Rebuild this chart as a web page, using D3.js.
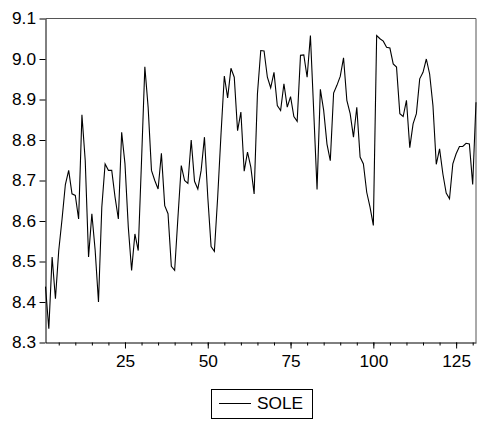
<!DOCTYPE html>
<html>
<head>
<meta charset="utf-8">
<script src="https://cdn.jsdelivr.net/npm/d3@7"></script>
<style>
  html, body { margin: 0; padding: 0; background: #fff; }
  svg { display: block; }
  text { font-family: "Liberation Sans", Arial, sans-serif; fill: #000; }
</style>
</head>
<body>
<svg id="chart" width="477" height="423"></svg>
<script>
const seriesName = "SOLE";
const sole = [
  8.438, 8.334, 8.511, 8.408, 8.527, 8.605, 8.690, 8.725, 8.667, 8.663,
  8.605, 8.862, 8.749, 8.511, 8.618, 8.527, 8.400, 8.634, 8.741, 8.725,
  8.725, 8.659, 8.605, 8.819, 8.741, 8.585, 8.478, 8.568, 8.527, 8.749,
  8.981, 8.880, 8.725, 8.700, 8.679, 8.767, 8.638, 8.618, 8.488, 8.478,
  8.610, 8.737, 8.700, 8.693, 8.800, 8.698, 8.679, 8.725, 8.807, 8.660,
  8.537, 8.525, 8.660, 8.815, 8.958, 8.904, 8.977, 8.955, 8.823, 8.869,
  8.723, 8.770, 8.733, 8.667, 8.914, 9.021, 9.020, 8.955, 8.929, 8.967,
  8.885, 8.873, 8.939, 8.881, 8.907, 8.858, 8.846, 9.009, 9.010, 8.955,
  9.058, 8.870, 8.678, 8.925, 8.873, 8.790, 8.749, 8.916, 8.935, 8.957,
  9.003, 8.898, 8.865, 8.807, 8.881, 8.758, 8.741, 8.671, 8.634, 8.589,
  9.058, 9.050, 9.044, 9.029, 9.027, 8.988, 8.980, 8.865, 8.858, 8.898,
  8.781, 8.840, 8.865, 8.951, 8.967, 9.000, 8.963, 8.885, 8.740, 8.778,
  8.716, 8.669, 8.655, 8.741, 8.766, 8.784, 8.784, 8.792, 8.790, 8.690,
  8.893
];
const obs = sole.map((v, i) => i + 1);
const yTicks = [8.3, 8.4, 8.5, 8.6, 8.7, 8.8, 8.9, 9.0, 9.1];
const xMajorTicks = [25, 50, 75, 100, 125];
const xMinorTicks = d3.range(5, 131, 5);

const svg = d3.select("#chart");
const L = 45.5, R = 476, T = 18.5, B = 342.5;
const SX = 1.08; // horizontal glyph stretch
const FS = 16;

const x = d3.scaleLinear().domain([1, sole.length]).range([L, R]);
const y = d3.scaleLinear().domain([8.3, 9.1]).range([B, T]);

// frame (top & right)
svg.append("path")
  .attr("d", `M${L},${T}H${R}V${B}`)
  .attr("fill", "none").attr("stroke", "#555").attr("stroke-width", 1);

// minor x ticks
const xMinor = svg.append("g").attr("transform", `translate(0,${B})`)
  .call(d3.axisBottom(x).tickValues(xMinorTicks).tickSize(3).tickFormat(""));
xMinor.select(".domain").remove();

// major x axis
const xAxis = svg.append("g").attr("transform", `translate(0,${B})`)
  .call(d3.axisBottom(x).tickValues(xMajorTicks).tickSize(6).tickSizeOuter(0).tickPadding(7));
xAxis.selectAll("text").attr("font-size", FS).attr("font-family", "Liberation Sans, Arial, sans-serif")
  .attr("transform", `scale(${SX},1)`);

// y axis
const yAxis = svg.append("g").attr("transform", `translate(${L},0)`)
  .call(d3.axisLeft(y).tickValues(yTicks).tickSize(6).tickSizeOuter(0).tickPadding(3)
    .tickFormat(d3.format(".1f")));
yAxis.selectAll("text").attr("font-size", FS).attr("font-family", "Liberation Sans, Arial, sans-serif")
  .attr("x", -9.5 / SX).attr("transform", `scale(${SX},1)`);

svg.selectAll(".domain").attr("stroke", "#000");
svg.selectAll(".tick line").attr("stroke", "#000");

// series line
const line = d3.line().x((d, i) => x(obs[i])).y(d => y(d));
svg.append("path").datum(sole)
  .attr("d", line)
  .attr("fill", "none").attr("stroke", "#000").attr("stroke-width", 1.1)
  .attr("stroke-linejoin", "miter");

// legend
const lg = svg.append("g");
lg.append("rect").attr("x", 211.5).attr("y", 389.5).attr("width", 101).attr("height", 29)
  .attr("fill", "#fff").attr("stroke", "#000");
lg.append("line").attr("x1", 219).attr("x2", 251).attr("y1", 403.5).attr("y2", 403.5)
  .attr("stroke", "#000");
lg.append("text").attr("x", 257 / SX).attr("y", 409.5).attr("font-size", FS)
  .attr("transform", `scale(${SX},1)`).text(seriesName);
</script>
</body>
</html>
